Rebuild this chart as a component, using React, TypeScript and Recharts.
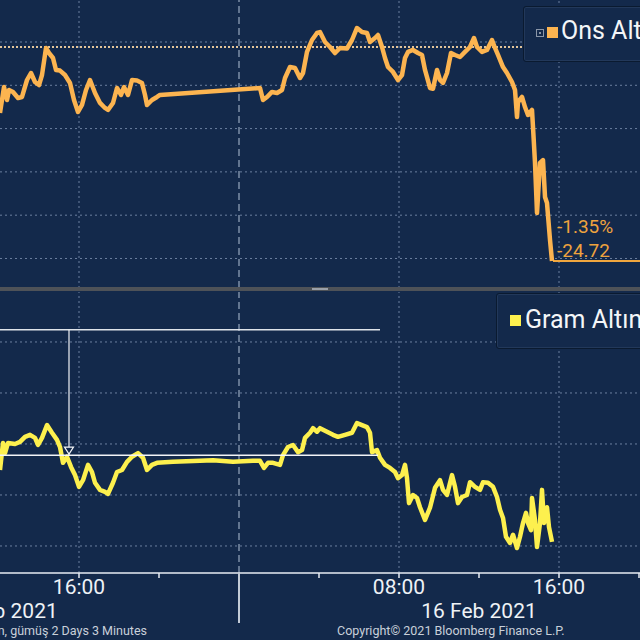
import { LineChart, Line, XAxis, YAxis, ReferenceLine, ReferenceDot } from "recharts";

const BG = "#13294b";
const GRID = "#6c80a0";
const ONS_COLOR = "#fcb450";
const GRAM_COLOR = "#fdf04e";

// time = minutes since 15 Feb 2021 00:00
const onsTimes = [
  723, 735, 744, 750, 762, 777, 789, 804, 816, 828, 840, 849, 861, 870, 882, 891, 903, 918, 933, 945,
  957, 969, 981, 993, 1008, 1023, 1038, 1047, 1062, 1074, 1086, 1095, 1107, 1119, 1134, 1149, 1158, 1164, 1179, 1194,
  1203, 1503, 1512, 1524, 1539, 1554, 1569, 1578, 1593, 1608, 1623, 1632, 1644, 1659, 1674, 1683, 1698, 1713, 1728, 1743,
  1764, 1779, 1794, 1809, 1824, 1833, 1848, 1857, 1869, 1878, 1887, 1902, 1917, 1929, 1938, 1947, 1962, 1977, 1989, 1998,
  2013, 2022, 2034, 2043, 2052, 2064, 2076, 2088, 2103, 2118, 2133, 2145, 2154, 2169, 2184, 2199, 2208, 2217, 2232, 2244,
  2259, 2268, 2274, 2277, 2289, 2298, 2307, 2319, 2322, 2328, 2334, 2343, 2352, 2358, 2364, 2373, 2379,
];
const onsValues = [
  1821.8, 1824.8, 1823.3, 1824.46, 1824.23, 1823.53, 1823.65, 1825.61, 1826.42, 1825.38,
  1825.03, 1826.19, 1829.31, 1828.73, 1828.15, 1826.77, 1826.7, 1826.19, 1825.27, 1823.3,
  1821.92, 1822.73, 1824.46, 1825.61, 1824.11, 1822.96, 1822.38, 1822.15, 1822.96, 1824.69,
  1823.88, 1824.8, 1823.88, 1825.61, 1825.55, 1825.27, 1823.88, 1822.73, 1823.3, 1823.65,
  1823.88, 1824.69, 1823.3, 1823.65, 1824.23, 1824.11, 1824.46, 1825.84, 1827.11, 1827.0,
  1825.84, 1826.42, 1828.85, 1830.23, 1831.04, 1831.15, 1830.0, 1829.42, 1828.73, 1829.31,
  1829.25, 1830.23, 1831.62, 1831.15, 1831.04, 1830.0, 1830.46, 1830.81, 1829.42, 1828.15,
  1827.11, 1826.54, 1825.61, 1826.19, 1828.15, 1828.85, 1829.08, 1828.73, 1828.5, 1826.77,
  1824.69, 1824.6, 1826.77, 1825.61, 1825.27, 1826.42, 1828.73, 1828.5, 1828.27, 1828.85,
  1829.42, 1830.46, 1829.42, 1828.85, 1829.08, 1830.23, 1829.31, 1828.5, 1827.11, 1826.42,
  1825.38, 1824.46, 1821.34, 1823.07, 1823.65, 1822.49, 1821.57, 1822.15, 1820.18, 1816.03,
  1810.25, 1816.03, 1816.37, 1812.1, 1811.41, 1807.14, 1804.7,
];

const gramTimes = [
  723, 732, 738, 747, 768, 783, 798, 813, 828, 837, 849, 864, 879, 894, 903, 912, 924, 936, 948, 960,
  972, 987, 999, 1008, 1023, 1038, 1047, 1062, 1074, 1089, 1104, 1119, 1137, 1152, 1164, 1179, 1194, 1242, 1323, 1362,
  1422, 1482, 1503, 1515, 1527, 1542, 1563, 1572, 1587, 1602, 1617, 1629, 1638, 1653, 1662, 1674, 1683, 1704, 1722, 1737,
  1758, 1779, 1794, 1809, 1824, 1833, 1839, 1854, 1863, 1878, 1893, 1908, 1917, 1929, 1938, 1944, 1950, 1962, 1974, 1983,
  1998, 2013, 2028, 2043, 2052, 2064, 2079, 2088, 2097, 2109, 2124, 2133, 2148, 2163, 2172, 2187, 2202, 2214, 2223, 2232,
  2241, 2253, 2262, 2274, 2283, 2292, 2301, 2307, 2316, 2319, 2328, 2334, 2343, 2349, 2355, 2364, 2370, 2379,
];
const gramValues = [
  409.49, 410.02, 409.82, 410.02, 410.0, 410.04, 410.14, 410.18, 410.12, 409.98,
  410.12, 410.37, 410.22, 410.08, 409.94, 409.63, 409.75, 409.55, 409.39, 409.16,
  409.29, 409.59, 409.45, 409.24, 409.1, 409.06, 409.02, 409.24, 409.45, 409.49,
  409.65, 409.75, 409.82, 409.73, 409.49, 409.59, 409.63, 409.65, 409.67, 409.68,
  409.65, 409.67, 409.67, 409.53, 409.63, 409.63, 409.59, 409.78, 409.94, 409.98,
  409.84, 409.88, 410.12, 410.22, 410.31, 410.24, 410.31, 410.24, 410.18, 410.14,
  410.18, 410.22, 410.41, 410.37, 410.33, 410.22, 409.84, 409.88, 409.73, 409.59,
  409.53, 409.45, 409.33, 409.39, 409.59, 409.33, 408.84, 409.0, 408.94, 408.76,
  408.51, 408.75, 409.14, 409.29, 409.1, 409.0, 409.39, 409.16, 408.84, 408.96,
  409.0, 409.25, 409.16, 409.1, 409.25, 409.24, 409.16, 408.96, 408.71, 408.55,
  408.18, 408.06, 408.22, 407.96, 408.18, 408.45, 408.65, 408.45, 408.31, 408.94,
  408.51, 407.98, 408.45, 409.1, 408.45, 408.76, 408.37, 408.08,
];

const onsGrid = [1830, 1825, 1820, 1815, 1810, 1805];
const gramGrid = [412, 411, 410, 409, 408];
const timeGrid = [960, 1920, 2400];
const dayBreak = 1440;
const axisTicks = [723, 960, 1200, 1440, 1680, 1920, 2160, 2400, 2640];
const timeLabels: Record<number, string> = { 960: "16:00", 1920: "08:00", 2400: "16:00" };
const dateLabels: Record<number, string> = { 723: "15 Feb 2021", 2160: "16 Feb 2021" };

const onsPrevClose = 1829.42;
const onsLast = 1804.7;
const onsLastTime = 2382;
const onsPct = "-1.35%";
const onsChange = "-24.72";

// drawn annotations on the gram panel
const gramUpper = 412.24;
const gramLevel = 409.78;
const gramMarkTime = 930;

const X_DOMAIN: [number, number] = [723, 2643];
const FONT = "Roboto, sans-serif";

const onsData = onsTimes.map((t, i) => ({ t, v: onsValues[i] }));
const gramData = gramTimes.map((t, i) => ({ t, v: gramValues[i] }));

function TimeTick(props: any) {
  const { x, y, payload } = props;
  const v = payload.value;
  return (
    <g>
      {v === dayBreak ? (
        <line x1={x} y1={y} x2={x} y2={y + 50} stroke="#c3cbd6" strokeWidth={2} />
      ) : v !== 723 ? (
        <line x1={x} y1={y} x2={x} y2={y + 5} stroke="#e8edf3" strokeWidth={1.5} />
      ) : null}
      {timeLabels[v] && (
        <text x={x} y={y + 21} textAnchor="middle" fill="#eef2f6" fontSize={21} fontFamily={FONT}>
          {timeLabels[v]}
        </text>
      )}
      {dateLabels[v] && (
        <text x={x} y={y + 45} textAnchor="middle" fill="#eef2f6" fontSize={21} fontFamily={FONT}>
          {dateLabels[v]}
        </text>
      )}
    </g>
  );
}

function LegendBox({ left, top, height, color, label, icon }: any) {
  return (
    <div
      style={{
        position: "absolute", left, top, width: 160, height,
        background: BG, border: "1px solid #0a1a30", borderRadius: 3,
        boxShadow: "inset 0 0 0 1px #22385a", fontFamily: FONT,
      }}
    >
      {icon && (
        <div style={{ position: "absolute", left: 12, top: 22, width: 6, height: 6, border: "1px solid #8a96a8" }}>
          <div style={{ position: "absolute", left: 2, top: 2, width: 2, height: 2, background: "#8a96a8" }} />
        </div>
      )}
      <div style={{ position: "absolute", left: icon ? 23 : 13, top: icon ? 20 : 21, width: 11, height: 11, background: color }} />
      <div style={{ position: "absolute", left: icon ? 37 : 28, top: icon ? 9 : 11, fontSize: 25, color: "#f4f6f8", whiteSpace: "nowrap" }}>
        {label}
      </div>
    </div>
  );
}

export default function App() {
  return (
    <div style={{ position: "fixed", left: 0, top: 0, width: 640, height: 640, background: BG, overflow: "hidden" }}>
      <div style={{ position: "absolute", left: 0, top: 0 }}>
        <LineChart width={640} height={288} data={onsData} margin={{ top: 0, right: 0, bottom: 0, left: 0 }}>
          <XAxis dataKey="t" type="number" domain={X_DOMAIN} hide allowDataOverflow />
          <YAxis type="number" domain={[1801.59, 1834.85]} hide allowDataOverflow />
          {onsGrid.map((g) => (
            <ReferenceLine key={g} y={g} stroke={GRID} strokeDasharray="2 3" />
          ))}
          {timeGrid.map((g) => (
            <ReferenceLine key={g} x={g} stroke={GRID} strokeDasharray="2 3" />
          ))}
          <ReferenceLine x={dayBreak} stroke="#7d8ea8" strokeDasharray="7 4" strokeWidth={1.5} />
          <ReferenceLine y={onsPrevClose} stroke="#e2c49a" strokeWidth={2} strokeDasharray="2 2" />
          <ReferenceLine
            segment={[{ x: onsLastTime, y: onsLast }, { x: X_DOMAIN[1], y: onsLast }]}
            stroke="#f0a63e"
            strokeWidth={2}
          />
          <Line
            dataKey="v"
            stroke={ONS_COLOR}
            strokeWidth={4.5}
            strokeLinejoin="round"
            dot={false}
            activeDot={false}
            isAnimationActive={false}
          />
          <ReferenceDot
            x={onsLastTime}
            y={onsLast}
            shape={(p: any) => (
              <g fontFamily={FONT} fontSize={19} fill="#eea33e">
                <text x={p.cx + 4} y={p.cy - 28}>{onsPct}</text>
                <text x={p.cx + 4} y={p.cy - 4}>{onsChange}</text>
              </g>
            )}
          />
        </LineChart>
      </div>

      <div style={{ position: "absolute", left: 0, top: 287, width: 640, height: 4, background: "#4e5258" }} />
      <div style={{ position: "absolute", left: 312, top: 288, width: 16, height: 2, background: "#9aa0a8" }} />

      <div style={{ position: "absolute", left: 0, top: 290 }}>
        <LineChart width={640} height={350} data={gramData} margin={{ top: 2, right: 0, bottom: 0, left: 0 }}>
          <XAxis
            dataKey="t"
            type="number"
            domain={X_DOMAIN}
            allowDataOverflow
            ticks={axisTicks}
            interval={0}
            height={67}
            tickSize={0}
            tickMargin={0}
            tickLine={false}
            axisLine={{ stroke: "#e8edf3", strokeWidth: 1.5 }}
            tick={(p: any) => <TimeTick {...p} />}
          />
          <YAxis type="number" domain={[407.47, 412.98]} hide allowDataOverflow />
          {gramGrid.map((g) => (
            <ReferenceLine key={g} y={g} stroke={GRID} strokeDasharray="2 3" />
          ))}
          {timeGrid.map((g) => (
            <ReferenceLine key={g} x={g} stroke={GRID} strokeDasharray="2 3" />
          ))}
          <ReferenceLine x={dayBreak} stroke="#7d8ea8" strokeDasharray="7 4" strokeWidth={1.5} />
          <Line
            dataKey="v"
            stroke={GRAM_COLOR}
            strokeWidth={4.5}
            strokeLinejoin="round"
            dot={false}
            activeDot={false}
            isAnimationActive={false}
          />
          <ReferenceLine segment={[{ x: 723, y: gramUpper }, { x: 1863, y: gramUpper }]} stroke="#dfe4ea" strokeWidth={1.5} />
          <ReferenceLine segment={[{ x: 723, y: gramLevel }, { x: 1857, y: gramLevel }]} stroke="#f2f4f7" strokeWidth={1.5} />
          <ReferenceLine segment={[{ x: gramMarkTime, y: gramUpper }, { x: gramMarkTime, y: gramLevel }]} stroke="#f2f4f7" strokeWidth={1.2} />
          <ReferenceDot
            x={gramMarkTime}
            y={gramLevel}
            shape={(p: any) => (
              <path
                d={`M${p.cx - 4.5},${p.cy - 8} L${p.cx + 4.5},${p.cy - 8} L${p.cx},${p.cy - 1} Z`}
                fill={BG}
                stroke="#f2f4f7"
                strokeWidth={1.2}
              />
            )}
          />
        </LineChart>
      </div>

      <LegendBox left={523} top={6} height={54} color={ONS_COLOR} label="Ons Altın" icon />
      <LegendBox left={496} top={293} height={54} color={GRAM_COLOR} label="Gram Altın" />

      <div style={{ position: "absolute", right: 493, top: 623, fontSize: 12.5, color: "#c9d0da", fontFamily: FONT, whiteSpace: "nowrap" }}>
        Ons altın, gram altın, gümüş 2 Days 3 Minutes
      </div>
      <div style={{ position: "absolute", left: 337, top: 623, fontSize: 12.5, color: "#c9d0da", fontFamily: FONT, whiteSpace: "nowrap" }}>
        Copyright© 2021 Bloomberg Finance L.P.
      </div>
    </div>
  );
}
